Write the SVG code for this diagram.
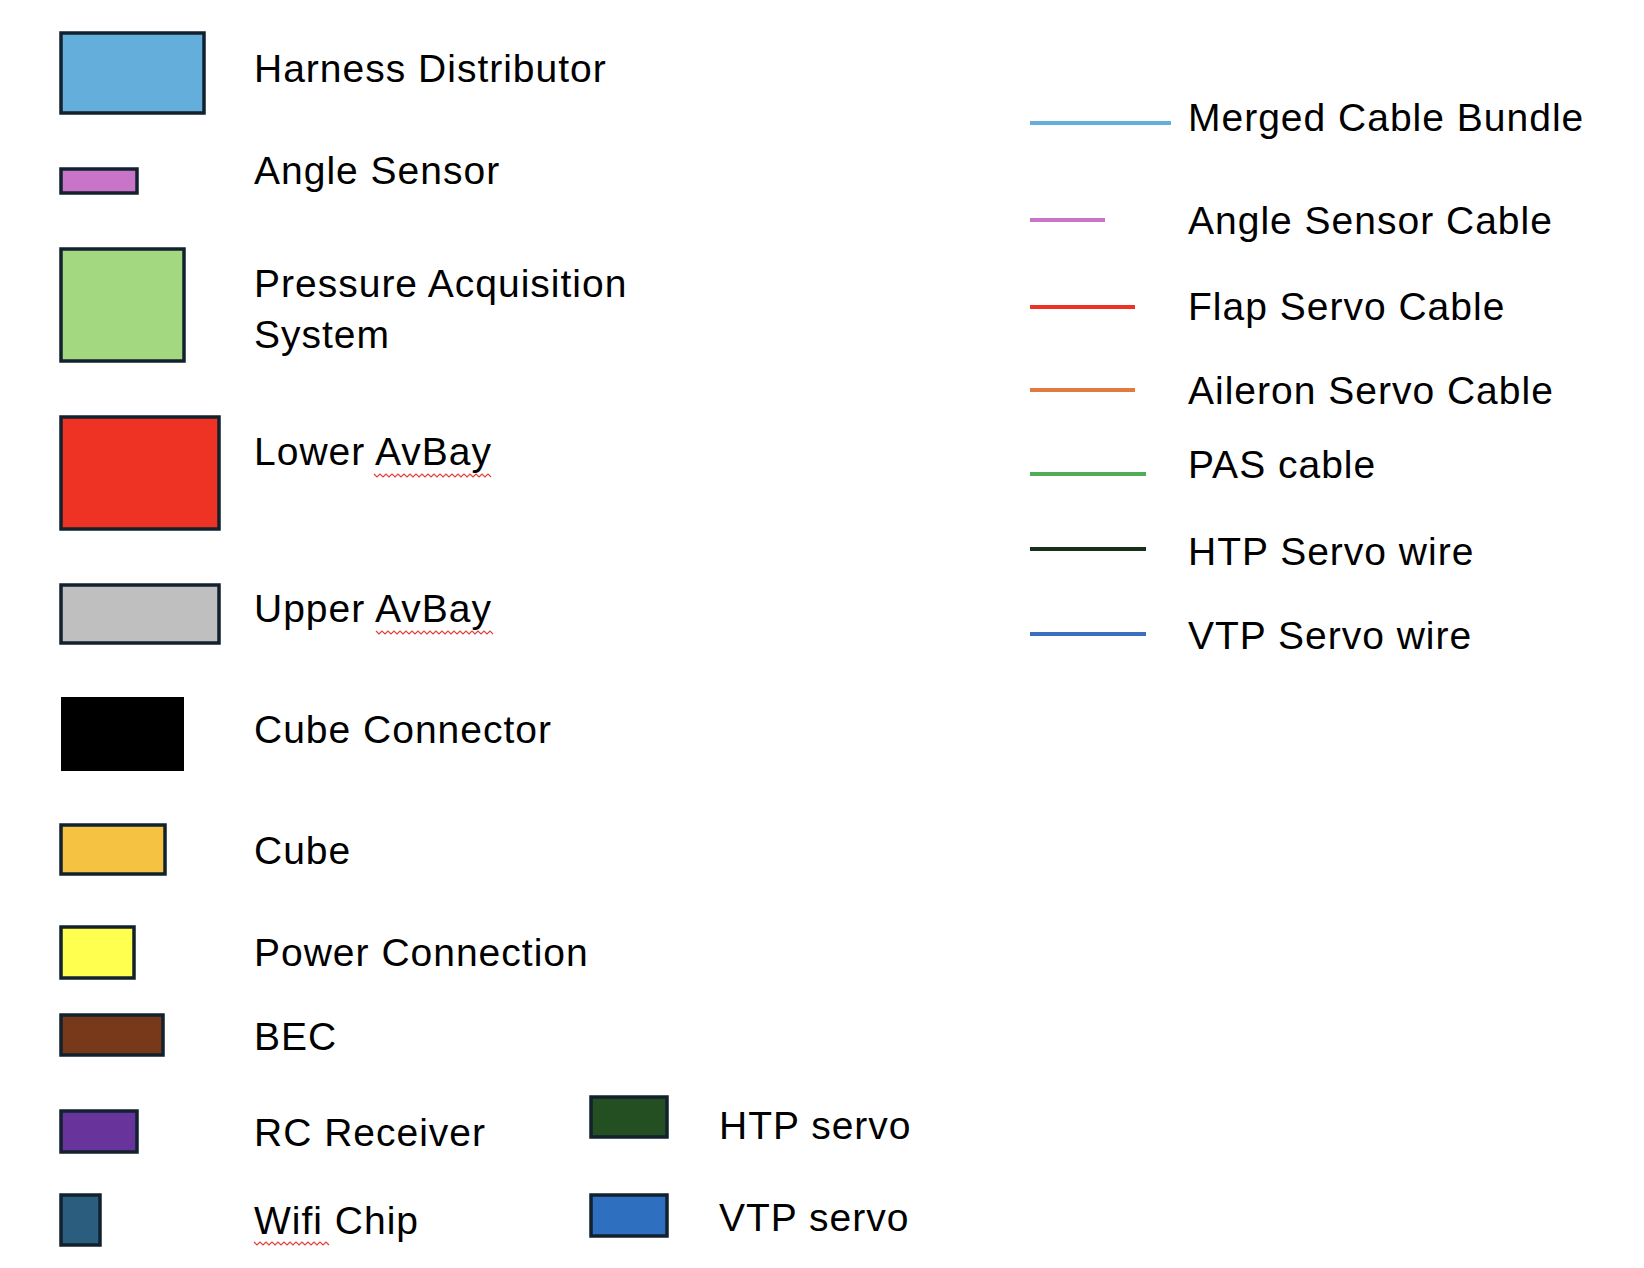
<svg xmlns="http://www.w3.org/2000/svg" width="1644" height="1268" viewBox="0 0 1644 1268">
<style>
.b{stroke:#12212e;stroke-width:3.5}
.t{font-family:"Liberation Sans",Arial,sans-serif;font-size:39px;letter-spacing:1px;fill:#000}
.l{stroke-width:4;fill:none}
.sq{stroke:#e0403a;stroke-width:1.2;fill:none}
</style>
<defs>
<path id="wave" d="M0 0 l3 3 3-3 3 3 3-3 3 3 3-3 3 3 3-3 3 3 3-3 3 3 3-3 3 3 3-3 3 3 3-3 3 3 3-3 3 3 3-3 3 3 3-3 3 3 3-3 3 3 3-3 3 3 3-3 3 3 3-3 3 3 3-3 3 3 3-3 3 3 3-3 3 3 3-3 3 3 3-3 3 3 3-3"/>
</defs>
<rect width="1644" height="1268" fill="#fff"/>
<g id="harness"><rect class="b" x="61" y="33" width="143" height="80" fill="#63aedb"/><text class="t" x="254" y="82">Harness Distributor</text></g>
<g id="angle"><rect class="b" x="61" y="169" width="76" height="24" fill="#c874c8"/><text class="t" x="254" y="184">Angle Sensor</text></g>
<g id="pas"><rect class="b" x="61" y="249" width="123" height="112" fill="#a3d880"/><text class="t" x="254" y="297">Pressure Acquisition</text><text class="t" x="254" y="348">System</text></g>
<g id="lower"><rect class="b" x="61" y="417" width="158" height="112" fill="#ee3324"/><text class="t" x="254" y="465">Lower AvBay</text><path class="sq" d="M374 474 l3 3 3-3 3 3 3-3 3 3 3-3 3 3 3-3 3 3 3-3 3 3 3-3 3 3 3-3 3 3 3-3 3 3 3-3 3 3 3-3 3 3 3-3 3 3 3-3 3 3 3-3 3 3 3-3 3 3 3-3 3 3 3-3 3 3 3-3 3 3 3-3 3 3 3-3 3 3"/></g>
<g id="upper"><rect class="b" x="61" y="585" width="158" height="58" fill="#bfbfbf"/><text class="t" x="254" y="622">Upper AvBay</text><path class="sq" d="M376 631 l3 3 3-3 3 3 3-3 3 3 3-3 3 3 3-3 3 3 3-3 3 3 3-3 3 3 3-3 3 3 3-3 3 3 3-3 3 3 3-3 3 3 3-3 3 3 3-3 3 3 3-3 3 3 3-3 3 3 3-3 3 3 3-3 3 3 3-3 3 3 3-3 3 3 3-3 3 3"/></g>
<g id="cubeconn"><rect x="61" y="697" width="123" height="74" fill="#000"/><text class="t" x="254" y="743">Cube Connector</text></g>
<g id="cube"><rect class="b" x="61" y="825" width="104" height="49" fill="#f5c242"/><text class="t" x="254" y="864">Cube</text></g>
<g id="power"><rect class="b" x="61" y="927" width="73" height="51" fill="#ffff50"/><text class="t" x="254" y="966">Power Connection</text></g>
<g id="bec"><rect class="b" x="61" y="1015" width="102" height="40" fill="#78391b"/><text class="t" x="254" y="1050">BEC</text></g>
<g id="rc"><rect class="b" x="61" y="1111" width="76" height="41" fill="#68339a"/><text class="t" x="254" y="1146">RC Receiver</text></g>
<g id="wifi"><rect class="b" x="61" y="1195" width="39" height="50" fill="#2b5d7e"/><text class="t" x="254" y="1234">Wifi Chip</text><path class="sq" d="M254 1242 l3 3 3-3 3 3 3-3 3 3 3-3 3 3 3-3 3 3 3-3 3 3 3-3 3 3 3-3 3 3 3-3 3 3 3-3 3 3 3-3 3 3 3-3 3 3 3-3 3 3"/></g>
<g id="htp"><rect class="b" x="591" y="1097" width="76" height="40" fill="#234f22"/><text class="t" x="719" y="1139">HTP servo</text></g>
<g id="vtp"><rect class="b" x="591" y="1195" width="76" height="41" fill="#2f6fc0"/><text class="t" x="719" y="1231">VTP servo</text></g>
<g id="connectors">
<line class="l" x1="1030" y1="123" x2="1171" y2="123" stroke="#63aedb"/>
<line class="l" x1="1030" y1="220" x2="1105" y2="220" stroke="#c874c8"/>
<line class="l" x1="1030" y1="307" x2="1135" y2="307" stroke="#ee3324"/>
<line class="l" x1="1030" y1="390" x2="1135" y2="390" stroke="#e07a3e"/>
<line class="l" x1="1030" y1="474" x2="1146" y2="474" stroke="#4fae54"/>
<line class="l" x1="1030" y1="549" x2="1146" y2="549" stroke="#17301a"/>
<line class="l" x1="1030" y1="634" x2="1146" y2="634" stroke="#3a6fc0"/>
</g>
<g id="line-labels">
<text class="t" x="1188" y="131">Merged Cable Bundle</text>
<text class="t" x="1188" y="234">Angle Sensor Cable</text>
<text class="t" x="1188" y="320">Flap Servo Cable</text>
<text class="t" x="1188" y="404">Aileron Servo Cable</text>
<text class="t" x="1188" y="478">PAS cable</text>
<text class="t" x="1188" y="565">HTP Servo wire</text>
<text class="t" x="1188" y="649">VTP Servo wire</text>
</g>
</svg>
